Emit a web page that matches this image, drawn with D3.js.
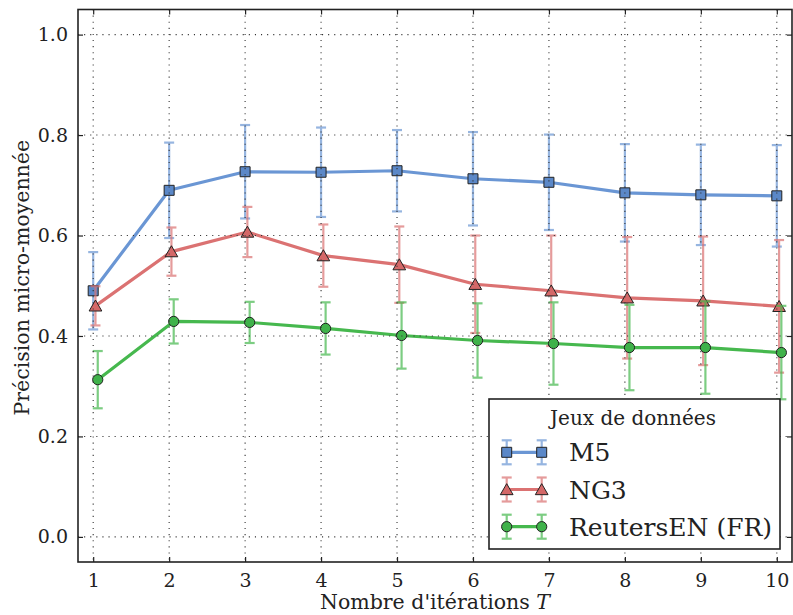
<!DOCTYPE html>
<html>
<head>
<meta charset="utf-8">
<script src="https://cdn.jsdelivr.net/npm/d3@7/dist/d3.min.js"></script>
<style>
  html, body { margin: 0; padding: 0; background: #fff; }
  text { font-family: "DejaVu Serif", serif; fill: #222; }
</style>
</head>
<body>
<svg id="chart" width="793" height="615"></svg>
<script>
// Nombre d'itérations T
const iterations = [1, 2, 3, 4, 5, 6, 7, 8, 9, 10];

// Précision micro-moyennée (moyenne) et écart-type par jeu de données
const m5Mean  = [0.490, 0.690, 0.727, 0.726, 0.729, 0.713, 0.706, 0.685, 0.681, 0.679];
const m5Std   = [0.077, 0.095, 0.093, 0.089, 0.081, 0.093, 0.095, 0.097, 0.100, 0.101];
const ng3Mean = [0.460, 0.568, 0.607, 0.560, 0.542, 0.503, 0.490, 0.476, 0.470, 0.459];
const ng3Std  = [0.039, 0.048, 0.050, 0.062, 0.076, 0.097, 0.110, 0.121, 0.128, 0.132];
const reuMean = [0.313, 0.429, 0.427, 0.415, 0.401, 0.391, 0.385, 0.377, 0.377, 0.367];
const reuStd  = [0.057, 0.044, 0.041, 0.052, 0.066, 0.074, 0.082, 0.085, 0.092, 0.093];

const seriesNames = ["M5", "NG3", "ReutersEN (FR)"];
const yTicks = [0.0, 0.2, 0.4, 0.6, 0.8, 1.0];

const series = [
  { name: seriesNames[0], mean: m5Mean,  std: m5Std,  shift: 0.00, line: "#6a96d4", fill: "#5b88c8", marker: "square" },
  { name: seriesNames[1], mean: ng3Mean, std: ng3Std, shift: 0.03, line: "#db7272", fill: "#d46868", marker: "triangle" },
  { name: seriesNames[2], mean: reuMean, std: reuStd, shift: 0.06, line: "#46b84e", fill: "#3fb24a", marker: "circle" }
];

const svg = d3.select("#chart");
const plotLeft = 78, plotRight = 792, plotTop = 9.5, plotBottom = 562;

const x = d3.scaleLinear().domain([0.8, 10.2]).range([plotLeft, plotRight]);
const y = d3.scaleLinear().domain([-0.05, 1.05]).range([plotBottom, plotTop]);

const symbolFor = {
  square: d3.symbol().type(d3.symbolSquare).size(100),
  triangle: d3.symbol().type(d3.symbolTriangle).size(70),
  circle: d3.symbol().type(d3.symbolCircle).size(82)
};

// Courbes, barres d'erreur et marqueurs
const plot = svg.append("g");
series.forEach(s => {
  const pts = iterations.map((it, i) => ({ x: it + s.shift, m: s.mean[i], sd: s.std[i] }));
  const g = plot.append("g");

  const eb = g.append("g").attr("stroke", s.line).attr("stroke-width", 2.2).attr("opacity", 0.7);
  pts.forEach(p => {
    const cx = x(p.x), y0 = y(p.m - p.sd), y1 = y(p.m + p.sd);
    eb.append("line").attr("x1", cx).attr("x2", cx).attr("y1", y0).attr("y2", y1);
    eb.append("line").attr("x1", cx - 5).attr("x2", cx + 5).attr("y1", y0).attr("y2", y0);
    eb.append("line").attr("x1", cx - 5).attr("x2", cx + 5).attr("y1", y1).attr("y2", y1);
  });

  g.append("path")
    .datum(pts)
    .attr("fill", "none")
    .attr("stroke", s.line)
    .attr("stroke-width", 3.2)
    .attr("stroke-linejoin", "round")
    .attr("d", d3.line().x(p => x(p.x)).y(p => y(p.m)));

  g.selectAll("path.mk").data(pts).join("path")
    .attr("class", "mk")
    .attr("d", symbolFor[s.marker])
    .attr("transform", p => `translate(${x(p.x)},${y(p.m) + (s.marker === "triangle" ? 1.5 : 0)})`)
    .attr("fill", s.fill)
    .attr("stroke", "#222")
    .attr("stroke-width", 1);
});

// Grille pointillée (au-dessus des courbes)
const grid = svg.append("g").attr("stroke", "#333").attr("stroke-width", 1.1)
  .attr("stroke-dasharray", "1.1,5");
yTicks.forEach(t => grid.append("line").attr("x1", plotLeft).attr("x2", plotRight).attr("y1", y(t)).attr("y2", y(t)));
iterations.forEach(t => grid.append("line").attr("x1", x(t)).attr("x2", x(t)).attr("y1", plotTop).attr("y2", plotBottom));

// Axes avec graduations intérieures sur les quatre côtés
const axB = d3.axisBottom(x).tickValues(iterations).tickFormat(d3.format("d")).tickSizeInner(-5).tickSizeOuter(0).tickPadding(12);
const axT = d3.axisTop(x).tickValues(iterations).tickFormat("").tickSizeInner(-5).tickSizeOuter(0);
const axL = d3.axisLeft(y).tickValues(yTicks).tickFormat(d3.format(".1f")).tickSizeInner(-5).tickSizeOuter(0).tickPadding(10);
const axR = d3.axisRight(y).tickValues(yTicks).tickFormat("").tickSizeInner(-5).tickSizeOuter(0);

function styleAxis(g) {
  g.select(".domain").remove();
  g.selectAll(".tick line").attr("stroke", "#222").attr("stroke-width", 1.2);
  g.selectAll(".tick text").attr("font-family", "DejaVu Serif").attr("font-size", 19).attr("fill", "#222");
}
svg.append("g").attr("transform", `translate(0,${plotBottom})`).call(axB).call(styleAxis);
svg.append("g").attr("transform", `translate(0,${plotTop})`).call(axT).call(styleAxis);
svg.append("g").attr("transform", `translate(${plotLeft},0)`).call(axL).call(styleAxis);
svg.append("g").attr("transform", `translate(${plotRight},0)`).call(axR).call(styleAxis);

svg.append("rect")
  .attr("x", plotLeft).attr("y", plotTop).attr("width", plotRight - plotLeft).attr("height", plotBottom - plotTop)
  .attr("fill", "none").attr("stroke", "#222").attr("stroke-width", 1.6);

// Titres des axes
const xl = svg.append("text")
  .attr("x", (plotLeft + plotRight) / 2).attr("y", 609)
  .attr("text-anchor", "middle").attr("font-size", 20.5);
xl.append("tspan").text("Nombre d'itérations ");
xl.append("tspan").attr("font-style", "italic").text("T");

svg.append("text")
  .attr("transform", `translate(29,${(plotTop + plotBottom) / 2 - 8}) rotate(-90)`)
  .attr("text-anchor", "middle").attr("font-size", 20.5)
  .text("Précision micro-moyennée");

// Légende
const lg = svg.append("g");
lg.append("rect").attr("x", 489).attr("y", 399).attr("width", 291).attr("height", 150)
  .attr("fill", "#fff").attr("stroke", "#222").attr("stroke-width", 1.6);
lg.append("text").attr("x", 633).attr("y", 425).attr("text-anchor", "middle")
  .attr("font-size", 20).text("Jeux de données");

series.forEach((s, i) => {
  const cy = 452.3 + i * 37.2;
  const xa = 506.7, xb = 541.7;
  const item = lg.append("g");
  const eb = item.append("g").attr("stroke", s.line).attr("stroke-width", 2.2).attr("opacity", 0.7);
  [xa, xb].forEach(cx => {
    eb.append("line").attr("x1", cx).attr("x2", cx).attr("y1", cy - 12).attr("y2", cy + 12);
    eb.append("line").attr("x1", cx - 5).attr("x2", cx + 5).attr("y1", cy - 12).attr("y2", cy - 12);
    eb.append("line").attr("x1", cx - 5).attr("x2", cx + 5).attr("y1", cy + 12).attr("y2", cy + 12);
  });
  item.append("line").attr("x1", xa).attr("x2", xb).attr("y1", cy).attr("y2", cy)
    .attr("stroke", s.line).attr("stroke-width", 3.2);
  [xa, xb].forEach(cx => {
    item.append("path").attr("d", symbolFor[s.marker])
      .attr("transform", `translate(${cx},${cy + (s.marker === "triangle" ? 1.5 : 0)})`)
      .attr("fill", s.fill).attr("stroke", "#222").attr("stroke-width", 1);
  });
  item.append("text").attr("x", 569).attr("y", cy + 9)
    .attr("font-size", 25).text(s.name);
});
</script>
</body>
</html>
